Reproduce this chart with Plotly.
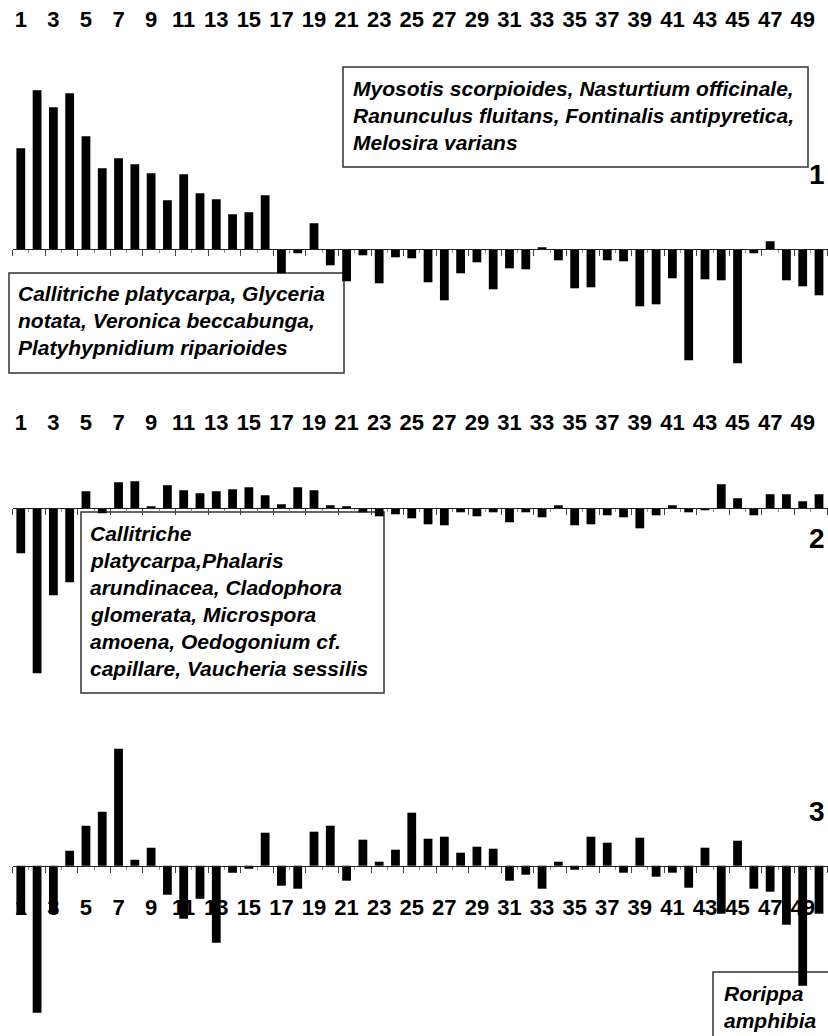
import plotly.graph_objects as go

# ---------------- data ----------------
categories = list(range(1, 51))
tick_values = list(range(1, 50, 2))
tick_labels = [str(v) for v in tick_values]

panel1_values = [101, 159, 142, 156, 113, 81, 91, 85, 76, 49,
                 75, 56, 50, 35, 37, 54, -24, -4, 26, -16,
                 -32, -6, -34, -8, -9, -33, -51, -24, -13, -40,
                 -19, -20, 2, -11, -39, -38, -11, -12, -57, -55,
                 -29, -111, -30, -31, -114, -4, 8, -31, -37, -46]

panel2_values = [-45, -165, -87, -74, 17, -5, 26, 27, 2, 23,
                 18, 15, 17, 19, 21, 13, 4, 21, 18, 3,
                 2, -4, -8, -6, -10, -16, -17, -4, -8, -4,
                 -14, -4, -9, 3, -17, -16, -7, -9, -20, -7,
                 3, -4, -2, 24, 10, -7, 14, 14, 7, 14]

panel3_values = [-49, -147, -48, 15, 40, 54, 117, 6, 18, -29,
                 -53, -33, -77, -7, -3, 33, -20, -23, 34, 40,
                 -15, 26, 4, 16, 53, 27, 29, 13, 19, 17,
                 -15, -9, -23, 4, -4, 29, 23, -7, 28, -11,
                 -7, -22, 18, -48, 25, -23, -26, -59, -120, -48]

panel_names = ["1", "2", "3"]

box_texts = {
    "A": ["Myosotis scorpioides, Nasturtium officinale,",
          "Ranunculus fluitans, Fontinalis antipyretica,",
          "Melosira varians"],
    "B": ["Callitriche platycarpa, Glyceria",
          "notata, Veronica beccabunga,",
          "Platyhypnidium riparioides"],
    "C": ["Callitriche",
          "platycarpa,Phalaris",
          "arundinacea, Cladophora",
          "glomerata, Microspora",
          "amoena, Oedogonium cf.",
          "capillare, Vaucheria sessilis"],
    "D": ["Rorippa", "amphibia"],
}

# ---------------- layout geometry (pixels) ----------------
W, H = 828, 1036
FONT = "Liberation Sans, Arial, sans-serif"
FS = 21


def px(x):
    return x / W


def py(y):
    return 1 - y / H


x_left_px = 12.65
step_px = 16.29
x_range = [0.5, 0.5 + (W - x_left_px) / step_px]
x_domain = [px(x_left_px), 1.0]

# panel: (values, top px, bottom px, zero px, label px position, label side)
panels = [
    (panel1_values, 40, 380, 249.3, 31, "top"),
    (panel2_values, 440, 700, 508.3, 434, "top"),
    (panel3_values, 730, 1036, 865.7, 892, "bottom"),
]

fig = go.Figure()
layout = dict(
    width=W, height=H,
    margin=dict(l=0, r=0, t=0, b=0),
    paper_bgcolor="white", plot_bgcolor="rgba(0,0,0,0)",
    showlegend=False, bargap=0.45,
    font=dict(family=FONT, color="black"),
)

for i, (vals, top, bot, zero, lab_pos, side) in enumerate(panels):
    n = i + 1
    lab_ax = "x" if n == 1 else f"x{n}"
    y_ax = "y" if n == 1 else f"y{n}"
    tick_ax_n = n + 3
    tick_ax = f"x{tick_ax_n}"

    fig.add_trace(go.Bar(x=categories, y=vals, xaxis=lab_ax, yaxis=y_ax,
                         marker=dict(color="black", line=dict(width=0)),
                         width=0.54, hoverinfo="x+y"))
    fig.add_trace(go.Scatter(x=categories, y=vals, xaxis=tick_ax, yaxis=y_ax,
                             mode="markers", marker=dict(opacity=0),
                             hoverinfo="skip"))

    layout[f"yaxis{n if n > 1 else ''}"] = dict(
        domain=[py(bot), py(top)], range=[zero - bot, zero - top],
        visible=False, fixedrange=True)
    layout[f"xaxis{n if n > 1 else ''}"] = dict(
        domain=x_domain, range=x_range, anchor="free", position=py(lab_pos),
        side=side, tickmode="array", tickvals=tick_values, ticktext=tick_labels,
        ticks="", showline=False, showgrid=False, zeroline=False,
        tickfont=dict(family=FONT, size=FS + 1, color="black", weight="bold"),
        layer="below traces", fixedrange=True)
    layout[f"xaxis{tick_ax_n}"] = dict(
        domain=x_domain, range=x_range, anchor="free", position=py(zero),
        overlaying=lab_ax, side="bottom", showline=True, linecolor="#222",
        linewidth=1, ticks="outside", tickmode="linear", tick0=0.5, dtick=2,
        ticklen=6, tickwidth=1, tickcolor="#444", showticklabels=False,
        showgrid=False, zeroline=False,
        minor=dict(ticks="outside", tick0=0.5, dtick=1, ticklen=3,
                   tickwidth=1, tickcolor="#888"),
        fixedrange=True)

fig.update_layout(**layout)

# ---------------- text boxes ----------------
boxes = [
    ("A", (343, 67, 808, 167), 351, [88, 115, 142]),
    ("B", (9, 273, 344, 373), 16, [293, 320, 347]),
    ("C", (81, 512, 384, 693), 88, [533, 560, 587, 614, 641, 668]),
    ("D", (713, 972, 840, 1050), 722, [993, 1020]),
]
for key, (x0, y0, x1, y1), tx, lines_y in boxes:
    fig.add_shape(type="rect", xref="paper", yref="paper",
                  x0=px(x0), x1=px(x1), y0=py(y1), y1=py(y0),
                  line=dict(color="#333", width=1.5), fillcolor="white",
                  layer="below")
    for line, ly in zip(box_texts[key], lines_y):
        fig.add_annotation(xref="paper", yref="paper", x=px(tx), y=py(ly),
                           xanchor="left", yanchor="middle", showarrow=False,
                           text=f"<b><i>{line}</i></b>",
                           font=dict(family=FONT, size=FS, color="black"))

# ---------------- panel numbers ----------------
for name, ly in zip(panel_names, [175, 538, 811]):
    fig.add_annotation(xref="paper", yref="paper", x=px(827), y=py(ly),
                       xanchor="right", yanchor="middle", showarrow=False,
                       text=f"<b>{name}</b>",
                       font=dict(family=FONT, size=28, color="black"))

fig.write_html(
    "out.html",
    config={"displayModeBar": False},
    post_script="document.body.style.margin='0';"
                "document.body.style.overflow='hidden';",
)
